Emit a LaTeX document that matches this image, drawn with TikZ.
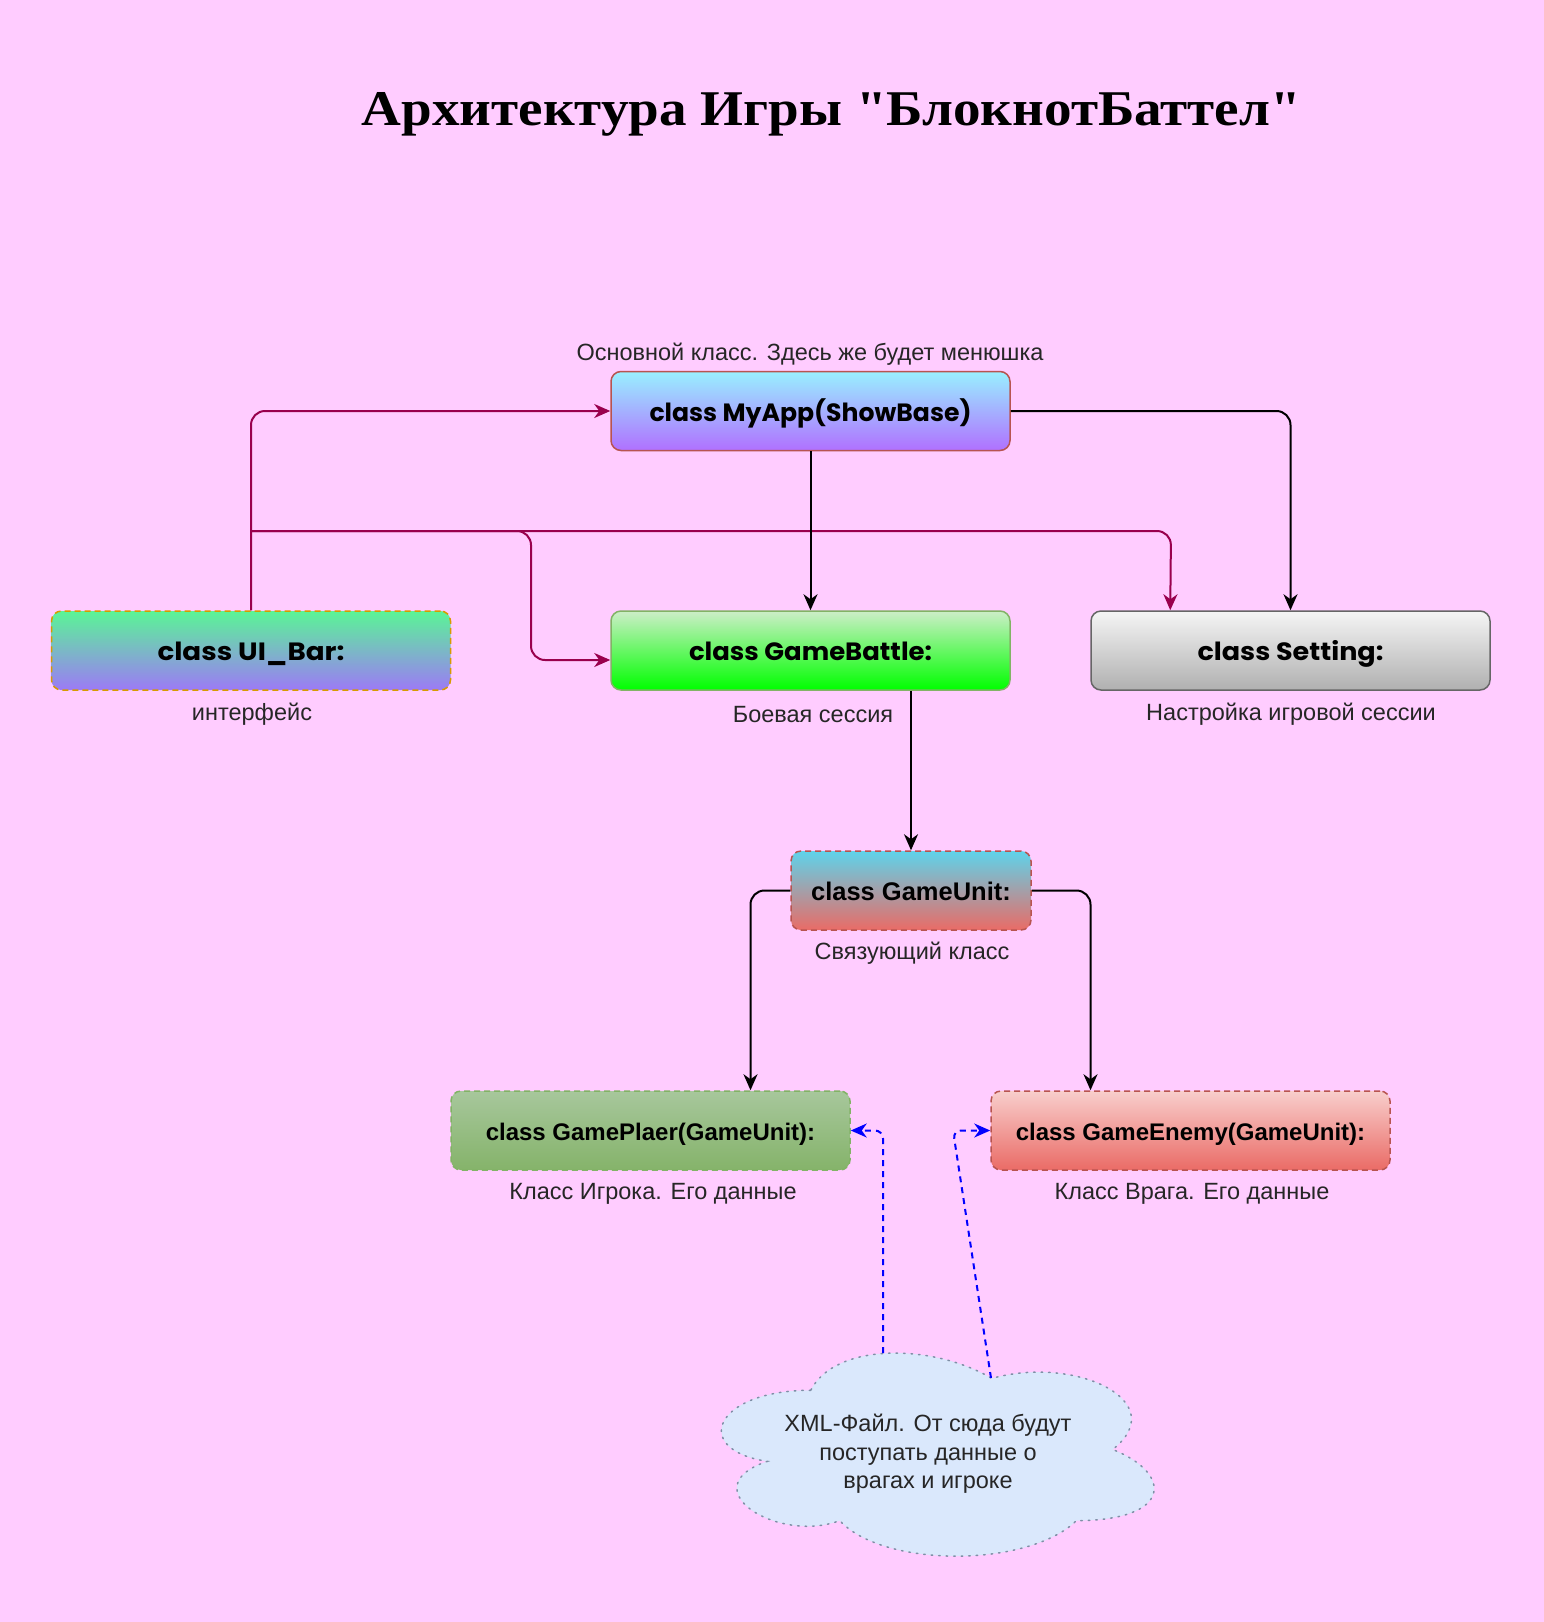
\documentclass[tikz,border=0pt]{standalone}
\usepackage{graphicx}
\usepackage{fontspec}
\setmainfont{Liberation Sans}
\newfontfamily\titlefont{Liberation Serif}
\newfontfamily\comicfont{Poppins}
\usetikzlibrary{arrows.meta,calc}
\definecolor{bgpink}{HTML}{FFCCFF}
\definecolor{magline}{HTML}{99004D}
\definecolor{redb}{HTML}{B85450}
\definecolor{greenb}{HTML}{82B366}
\definecolor{orangeb}{HTML}{D79B00}
\definecolor{grayb}{HTML}{666666}
\definecolor{cloudfill}{HTML}{DAE8FC}
\definecolor{cloudline}{HTML}{7F8FA6}
\newcommand\cmc[2]{\resizebox{#1}{\height}{\comicfont\bfseries\fontsize{25}{30}\selectfont #2}}
\tikzset{
  cbox/.style={rectangle, rounded corners=10pt, minimum width=399pt, minimum height=79pt, inner sep=0pt, line width=1.5pt, text height=21pt, text depth=1pt},
  dashedbox/.style={dash pattern=on 6pt off 4pt},
  albl/.style={font=\bfseries\fontsize{24}{28}\selectfont},
  lbl/.style={font=\fontsize{23.5}{28.5}\selectfont, text=black!85, inner sep=0pt},
  tip/.style={-{Stealth[length=16pt,width=14pt,inset=5pt]}},
  mag/.style={draw=magline, line width=2pt, rounded corners=14pt, tip},
  blk/.style={draw=black, line width=2pt, rounded corners=14pt, tip},
  blu/.style={draw=blue, line width=2pt, rounded corners=8pt, dash pattern=on 6pt off 5pt, tip},
}
\begin{document}
\begin{tikzpicture}[x=1pt,y=-1pt]
\fill[bgpink] (0,0) rectangle (1544,1622);
\useasboundingbox (0,0) rectangle (1544,1622);

\node[anchor=base, inner sep=0pt] (title) at (831.5,125) {\resizebox{939pt}{\height}{\titlefont\bfseries\fontsize{50}{60}\selectfont Архитектура Игры "БлокнотБаттел"}};

% boxes
\node[cbox, draw=redb, top color={rgb,255:red,153;green,240;blue,255}, bottom color={rgb,255:red,176;green,112;blue,255}] (myapp) at (810.5,411) {\cmc{322pt}{class MyApp(ShowBase)}};
\node[cbox, dashedbox, draw=orangeb, top color={rgb,255:red,90;green,245;blue,150}, bottom color={rgb,255:red,156;green,122;blue,246}] (uibar) at (251,650.5) {\cmc{187pt}{class UI\_Bar:}};
\node[cbox, draw=greenb, top color={rgb,255:red,205;green,238;blue,200}, bottom color={rgb,255:red,0;green,255;blue,0}] (gb) at (810.5,650.5) {\cmc{243pt}{class GameBattle:}};
\node[cbox, draw=grayb, top color={rgb,255:red,245;green,245;blue,245}, bottom color={rgb,255:red,176;green,176;blue,176}] (setting) at (1290.5,650.5) {\cmc{186pt}{class Setting:}};
\node[cbox, dashedbox, minimum width=240pt, draw=redb, top color={rgb,255:red,94;green,211;blue,235}, bottom color={rgb,255:red,234;green,107;blue,102}, font=\bfseries\fontsize{25.5}{30}\selectfont] (gu) at (911,890.5) {class GameUnit:};
\node[cbox, dashedbox, draw=greenb, top color={rgb,255:red,167;green,199;blue,156}, bottom color={rgb,255:red,133;green,179;blue,106}, albl] (gp) at (650.5,1130.5) {class GamePlaer(GameUnit):};
\node[cbox, dashedbox, draw=redb, top color={rgb,255:red,248;green,206;blue,204}, bottom color={rgb,255:red,234;green,107;blue,102}, albl] (ge) at (1190.5,1130.5) {class GameEnemy(GameUnit):};

% labels
\node[lbl] (lmyapp) at (810,354.5) {Основной класс. Здесь же будет менюшка};
\node[lbl] (luibar) at (252,714.5) {интерфейс};
\node[lbl] (lgb) at (813,714.5) {Боевая сессия};
\node[lbl] (lsetting) at (1291,714.5) {Настройка игровой сессии};
\node[lbl] (lgu) at (912,953.5) {Связующий класс};
\node[lbl] (lgp) at (653,1193.5) {Класс Игрока. Его данные};
\node[lbl] (lge) at (1192,1193.5) {Класс Врага. Его данные};

% cloud
\begin{scope}[shift={(690,1331)}, xscale=4.83, yscale=2.37]
\path[fill=cloudfill, draw=cloudline, line width=1.5pt, dash pattern=on 1.5pt off 6pt, line cap=round]
 (25,25) .. controls (5,25) and (0,50) .. (16,55)
 .. controls (0,66) and (18,90) .. (31,80)
 .. controls (40,100) and (70,100) .. (80,80)
 .. controls (100,80) and (100,60) .. (87.5,50)
 .. controls (100,30) and (80,10) .. (62.5,20)
 .. controls (50,5) and (30,5) .. (25,25) -- cycle;
\end{scope}
\node[lbl, align=center] (xml) at (928,1454) {XML-Файл. От сюда будут\\поступать данные о\\врагах и игроке};
\coordinate (c1) at (883,1353);
\coordinate (c2) at (991,1378);
\coordinate (j) at (251,531);

% connectors
\draw[mag] (uibar.north) |- (myapp.west);
\draw[mag] (j) -- (531,531) -- (531,660) -- ($(gb.west)+(0,9.5)$);
\draw[mag] (j) -- (1171,531) -- ($(setting.north west)+(80,0)$);
\draw[blk] (myapp.south) -- (gb.north);
\draw[blk] (myapp.east) -| (setting.north);
\draw[blk] (gb.south -| gu.north) -- (gu.north);
\draw[blk] (gu.west) -| ($(gp.north)+(100,0)$);
\draw[blk] (gu.east) -| ($(ge.north)+(-100,0)$);
\draw[blu] (c1) -- (883,1130.5) -- (gp.east);
\draw[blu] (c2) -- (953,1130.5) -- (ge.west);
\end{tikzpicture}
\end{document}
